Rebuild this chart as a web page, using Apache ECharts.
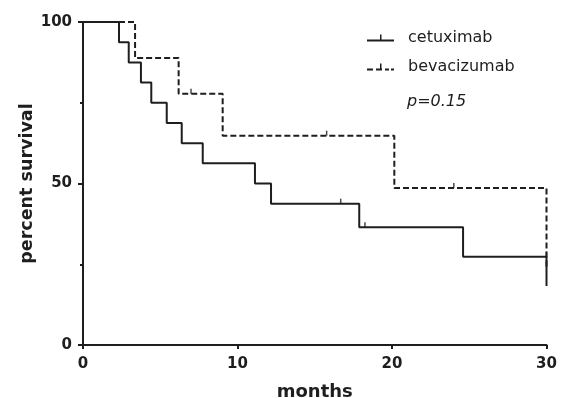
<!DOCTYPE html>
<html>
<head>
<meta charset="utf-8">
<script src="https://cdn.jsdelivr.net/npm/echarts@6/dist/echarts.min.js"></script>
<style>
  html, body { margin: 0; padding: 0; background: #fff; }
  #chart { width: 561px; height: 398px; }
</style>
</head>
<body>
<div id="chart"></div>
<script>
// Kaplan-Meier steps: [months, percent surviving]
const cetuximabSteps = [
  [0, 100], [2.33, 93.75], [2.96, 87.5], [3.75, 81.25], [4.42, 75],
  [5.42, 68.75], [6.39, 62.5], [7.75, 56.25], [11.13, 50], [12.17, 43.75],
  [17.88, 36.46], [24.6, 27.34], [30, 18.23]
]
const bevacizumabSteps = [
  [0, 100], [3.37, 88.89], [6.19, 77.78], [9.04, 64.81], [20.15, 48.61],
  [30, 24.3]
]
// censored observations (tick marks)
const cetuximabCensored = [[16.68, 43.75], [18.25, 36.46], [30, 27.34]]
const bevacizumabCensored = [[6.99, 77.78], [15.77, 64.81], [24.0, 48.61]]

const xTicks = [0, 10, 20, 30]
const yTicks = [0, 50, 100]
const pValueText = 'p=0.15'

const ink = '#1e1e1e'
const font = 'DejaVu Sans'

const chart = echarts.init(document.getElementById('chart'))

const tickMark = {
  type: 'scatter',
  symbol: 'rect',
  symbolSize: [1.5, 5],
  symbolOffset: [0, -2.5],
  itemStyle: { color: ink },
  silent: true,
  z: 3
}

const option = {
  animation: false,
  backgroundColor: '#fff',
  grid: { left: 83, right: 14.5, top: 22, bottom: 53, containLabel: false, outerBoundsMode: 'none' },
  xAxis: {
    type: 'value',
    min: xTicks[0],
    max: xTicks[xTicks.length - 1],
    interval: 10,
    name: 'months',
    nameLocation: 'middle',
    nameGap: 38,
    nameTextStyle: { color: ink, fontFamily: font, fontWeight: 'bold', fontSize: 18 },
    axisLine: { show: true, onZero: false, lineStyle: { color: ink, width: 2 } },
    axisTick: { show: true, length: 4, lineStyle: { width: 2 } },
    axisLabel: { color: ink, fontFamily: font, fontWeight: 'bold', fontSize: 15, margin: 12 },
    splitLine: { show: false }
  },
  yAxis: {
    type: 'value',
    min: yTicks[0],
    max: yTicks[yTicks.length - 1],
    interval: 50,
    name: 'percent survival',
    nameLocation: 'middle',
    nameGap: 47,
    nameMoveOverlap: false,
    nameTextStyle: { color: ink, fontFamily: font, fontWeight: 'bold', fontSize: 17.5 },
    axisLine: { show: true, onZero: false, lineStyle: { color: ink, width: 2 } },
    axisTick: { show: true, length: 5, lineStyle: { width: 2 } },
    minorTick: { show: true, splitNumber: 2, length: 3, lineStyle: { color: ink, width: 2 } },
    axisLabel: { color: ink, fontFamily: font, fontWeight: 'bold', fontSize: 15, margin: 11 },
    splitLine: { show: false }
  },
  legend: {
    orient: 'vertical',
    left: 367,
    top: 30,
    padding: 0,
    itemWidth: 27,
    itemHeight: 8,
    itemGap: 13,
    selectedMode: false,
    itemStyle: { borderWidth: 0 },
    textStyle: { color: ink, fontFamily: font, fontSize: 16, padding: [0, 0, 0, 9] },
    data: [
      { name: 'cetuximab', icon: 'path://M0,6h27v2h-27z M13,1h1.5v5h-1.5z' },
      { name: 'bevacizumab', icon: 'path://M0,6h6v2h-6z M9,6h6v2h-6z M18,6h4v2h-4z M24,6h3v2h-3z M13,1h1.5v5h-1.5z' }
    ]
  },
  graphic: [{
    type: 'text',
    left: 407,
    top: 94,
    style: {
      text: pValueText,
      fill: ink,
      font: 'italic 16px "DejaVu Sans"'
    }
  }],
  series: [
    {
      name: 'cetuximab',
      type: 'line',
      step: 'end',
      symbol: 'none',
      data: cetuximabSteps,
      itemStyle: { color: ink },
      lineStyle: { color: ink, width: 2 },
      z: 3
    },
    {
      name: 'bevacizumab',
      type: 'line',
      step: 'end',
      symbol: 'none',
      data: bevacizumabSteps,
      itemStyle: { color: ink },
      lineStyle: { color: ink, width: 2, type: [6, 3] },
      z: 2
    },
    Object.assign({ name: 'cetuximab censored', data: cetuximabCensored }, tickMark),
    Object.assign({ name: 'bevacizumab censored', data: bevacizumabCensored }, tickMark)
  ]
}

chart.setOption(option)
</script>
</body>
</html>
